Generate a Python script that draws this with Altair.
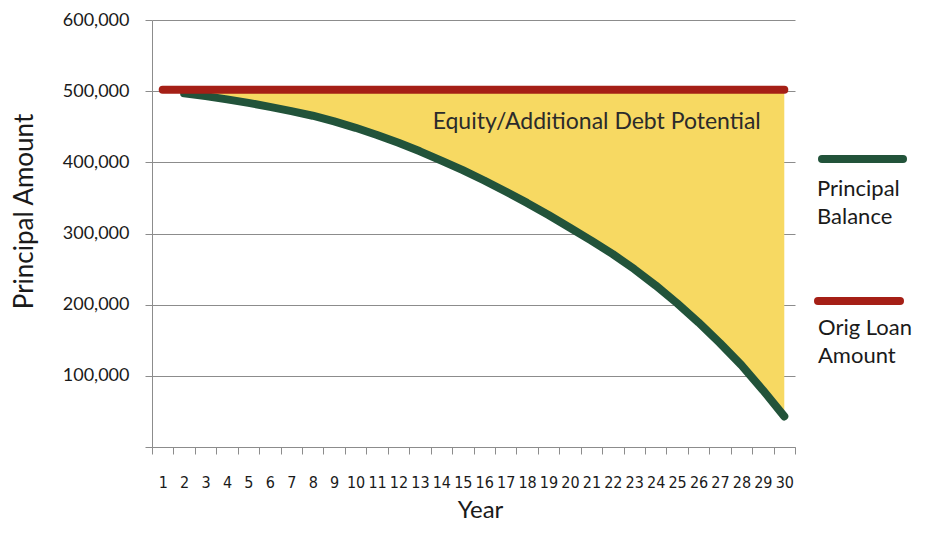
import altair as alt
import pandas as pd

# ---- data ----
years = list(range(1, 31))
principal_balance = [None, 497000, 493000, 488500, 483500, 478000, 472000, 465500,
                     457500, 448500, 438500, 427500, 415500, 402500, 389000, 374500,
                     359000, 343000, 326000, 308000, 290000, 271000, 250000, 227000,
                     202000, 175000, 146000, 115000, 80000, 43000]
orig_loan_amount = [502000] * 30
y_ticks = [0, 100000, 200000, 300000, 400000, 500000, 600000]
annotation_text = ["Equity/Additional Debt Potential"]
annotation_year = [14]
annotation_value = [447000]
legend_labels = ["Principal\nBalance", "Orig Loan\nAmount"]

GREEN = "#22533a"
RED = "#a51f16"
YELLOW = "#f7d962"
GRID = "#8c8c8c"
FONT = "Lato"

df = pd.DataFrame({"year": years, "principal": principal_balance, "orig": orig_loan_amount})

x_scale = alt.Scale(type="band", paddingInner=0, paddingOuter=0)
x_axis = alt.Axis(
    title="Year", labelAngle=0, tickBand="extent", grid=False,
    labelFont="Liberation Sans Narrow, DejaVu Sans Condensed, sans-serif",
    labelFontSize=16, labelColor="#1a1a1a", labelPadding=20,
    tickSize=7, tickColor=GRID, domainColor=GRID,
    titleFont=FONT, titleFontSize=24, titleFontWeight="normal", titleColor="#1a1a1a",
    titleX=328, titleY=75, titleBaseline="bottom", titleAlign="center",
)
x_enc = alt.X("year:O", bandPosition=0.5, scale=x_scale, axis=x_axis)

y_scale = alt.Scale(domain=[0, 600000], nice=False)
y_axis = alt.Axis(
    title="Principal Amount", values=y_ticks,
    labelExpr="datum.value == 0 ? '' : format(datum.value, ',d')",
    labelFont=FONT, labelFontSize=18, labelColor="#1a1a1a", labelPadding=16,
    tickSize=7, tickColor=GRID, domainColor=GRID, gridColor=GRID, grid=True,
    titleFont=FONT, titleFontSize=26, titleFontWeight="normal", titleColor="#1a1a1a",
    titleAngle=270, titleX=-128, titleY=191, titleBaseline="middle", titleAlign="center",
)

base = alt.Chart(df).transform_filter("datum.principal != null")

area = base.mark_area(color=YELLOW, opacity=1).encode(
    x=x_enc,
    y=alt.Y("principal:Q", scale=y_scale, axis=y_axis),
    y2="orig:Q",
)

green = base.mark_line(color=GREEN, strokeWidth=8, strokeCap="round", strokeJoin="round").encode(
    x=x_enc, y=alt.Y("principal:Q", scale=y_scale, axis=y_axis),
)

red = alt.Chart(df).mark_line(color=RED, strokeWidth=8, strokeCap="round").encode(
    x=x_enc, y=alt.Y("orig:Q", scale=y_scale, axis=y_axis),
)

ann_df = pd.DataFrame({"year": annotation_year, "value": annotation_value, "text": annotation_text})
annotation = alt.Chart(ann_df).mark_text(
    align="left", baseline="alphabetic", dx=2, font=FONT, fontSize=23, color="#2b2b2b"
).encode(
    x=alt.X("year:O", bandPosition=0, scale=x_scale, axis=x_axis),
    y=alt.Y("value:Q", scale=y_scale, axis=y_axis),
    text="text:N",
)

one = pd.DataFrame({"k": [0]})
leg_green = alt.Chart(one).mark_rule(color=GREEN, strokeWidth=8, strokeCap="round").encode(
    x=alt.value(670), x2=alt.value(751), y=alt.value(139))
leg_red = alt.Chart(one).mark_rule(color=RED, strokeWidth=8, strokeCap="round").encode(
    x=alt.value(666), x2=alt.value(748), y=alt.value(281))
leg_t1 = alt.Chart(one).mark_text(
    text=legend_labels[0], lineBreak="\n", lineHeight=28, align="left", baseline="alphabetic",
    font=FONT, fontSize=22, color="#1a1a1a").encode(x=alt.value(665), y=alt.value(176))
leg_t2 = alt.Chart(one).mark_text(
    text=legend_labels[1], lineBreak="\n", lineHeight=28, align="left", baseline="alphabetic",
    font=FONT, fontSize=22, color="#1a1a1a").encode(x=alt.value(666), y=alt.value(315))

chart = alt.layer(area, green, red, annotation, leg_green, leg_red, leg_t1, leg_t2).properties(
    width=643, height=427,
    padding={"left": 144, "top": 12, "right": 118, "bottom": 76},
    autosize=alt.AutoSizeParams(type="none"),
).configure_view(stroke=None).configure_axis(gridWidth=1, domainWidth=1, tickWidth=1)

chart.save("out.html", embed_options={"renderer": "svg", "actions": False})
